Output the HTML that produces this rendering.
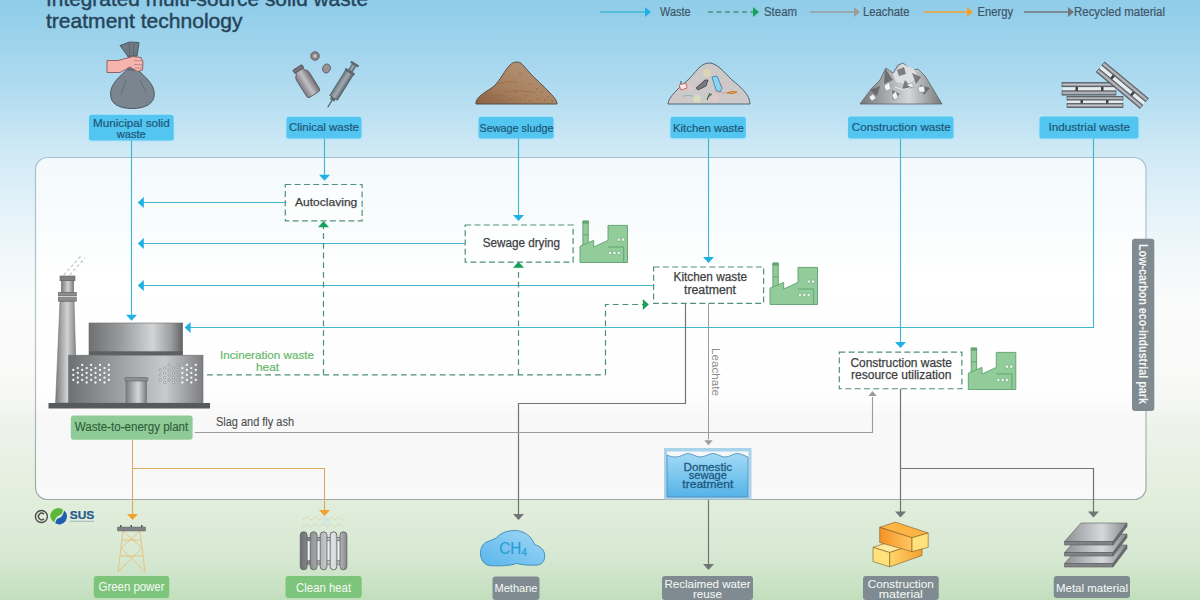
<!DOCTYPE html><html><head><meta charset="utf-8"><style>html,body{margin:0;padding:0;width:1200px;height:600px;overflow:hidden;background:#fff}svg{display:block}text{font-family:"Liberation Sans",sans-serif}</style></head><body>
<svg width="1200" height="600" viewBox="0 0 1200 600">
<defs>
<linearGradient id="bg" x1="0" y1="0" x2="0" y2="1">
<stop offset="0" stop-color="#8ecce9"/>
<stop offset="0.17" stop-color="#b6def1"/>
<stop offset="0.25" stop-color="#cfe9f5"/>
<stop offset="0.33" stop-color="#e0f0f8"/>
<stop offset="0.42" stop-color="#f0f7fa"/>
<stop offset="0.5" stop-color="#fafbfb"/>
<stop offset="0.62" stop-color="#f9f9f8"/>
<stop offset="0.67" stop-color="#f5f7f4"/>
<stop offset="0.70" stop-color="#eef3ec"/>
<stop offset="0.835" stop-color="#e2eedc"/>
<stop offset="0.93" stop-color="#d6e8d2"/>
<stop offset="1" stop-color="#c2dfbd"/>
</linearGradient>
<linearGradient id="pstroke" x1="0" y1="0" x2="0" y2="1"><stop offset="0" stop-color="#a4c2cc"/><stop offset="0.5" stop-color="#b4c4c6"/><stop offset="1" stop-color="#a2a8a4"/></linearGradient>
<linearGradient id="panel" x1="0" y1="0" x2="0" y2="1">
<stop offset="0" stop-color="#f3f9fc"/>
<stop offset="0.2" stop-color="#f9fcfd"/>
<stop offset="0.35" stop-color="#ffffff"/>
<stop offset="0.69" stop-color="#fefefe"/>
<stop offset="0.76" stop-color="#f8f8f8"/>
<stop offset="1" stop-color="#f9f9f9"/>
</linearGradient>
</defs>
<rect x="0" y="0" width="1200" height="600" fill="url(#bg)"/>
<text x="46" y="5.5" font-size="21" fill="#26455a" text-anchor="start" font-weight="normal" textLength="322" lengthAdjust="spacingAndGlyphs" stroke="#26455a" stroke-width="0.45" >Integrated multi-source solid waste</text>
<text x="46" y="27.8" font-size="21" fill="#26455a" text-anchor="start" font-weight="normal" textLength="196.5" lengthAdjust="spacingAndGlyphs" stroke="#26455a" stroke-width="0.45" >treatment technology</text>
<polyline points="600,12 647,12" fill="none" stroke="#40b7d0" stroke-width="1.4"/>
<polygon points="651.00,12.00 645.00,7.00 645.00,17.00" fill="#1fb0e4"/>
<text x="660" y="15.5" font-size="12" fill="#3e5667" text-anchor="start" font-weight="normal" textLength="30.5" lengthAdjust="spacingAndGlyphs" stroke="#3e5667" stroke-width="0.2" >Waste</text>
<polyline points="708,12 754,12" fill="none" stroke="#4b8f76" stroke-width="1.4" stroke-dasharray="5,3.5"/>
<polygon points="759.00,12.00 753.00,7.00 753.00,17.00" fill="#16a058"/>
<text x="764" y="15.5" font-size="12" fill="#3e5667" text-anchor="start" font-weight="normal" textLength="33" lengthAdjust="spacingAndGlyphs" stroke="#3e5667" stroke-width="0.2" >Steam</text>
<polyline points="810,12 856,12" fill="none" stroke="#9c9c9c" stroke-width="1.4"/>
<polygon points="860.00,12.00 854.00,7.00 854.00,17.00" fill="#9c9c9c"/>
<text x="863" y="15.5" font-size="12" fill="#3e5667" text-anchor="start" font-weight="normal" textLength="46.5" lengthAdjust="spacingAndGlyphs" stroke="#3e5667" stroke-width="0.2" >Leachate</text>
<polyline points="924,12 969,12" fill="none" stroke="#f0a22e" stroke-width="1.4"/>
<polygon points="973.00,12.00 967.00,7.00 967.00,17.00" fill="#f0a22e"/>
<text x="977.5" y="15.5" font-size="12" fill="#3e5667" text-anchor="start" font-weight="normal" textLength="35.5" lengthAdjust="spacingAndGlyphs" stroke="#3e5667" stroke-width="0.2" >Energy</text>
<polyline points="1024,12 1070,12" fill="none" stroke="#737475" stroke-width="1.4"/>
<polygon points="1074.00,12.00 1068.00,7.00 1068.00,17.00" fill="#737475"/>
<text x="1074" y="15.5" font-size="12" fill="#3e5667" text-anchor="start" font-weight="normal" textLength="91" lengthAdjust="spacingAndGlyphs" stroke="#3e5667" stroke-width="0.2" >Recycled material</text>
<rect x="35.5" y="157.5" width="1110.5" height="342" rx="12" ry="12" fill="url(#panel)" stroke="url(#pstroke)" stroke-width="1.2"/>
<rect x="87.5" y="113.2" width="87.69999999999999" height="28.799999999999997" rx="3.5" fill="#b9e5f7"/>
<rect x="89" y="114.7" width="84.69999999999999" height="25.799999999999997" rx="2.5" fill="#52c5f1"/>
<text x="93" y="126.7" font-size="11.5" fill="#1e5777" text-anchor="start" font-weight="normal" textLength="76.7" lengthAdjust="spacingAndGlyphs" stroke="#1e5777" stroke-width="0.2" >Municipal solid</text>
<text x="116.7" y="137.5" font-size="11.5" fill="#1e5777" text-anchor="start" font-weight="normal" textLength="29" lengthAdjust="spacingAndGlyphs" stroke="#1e5777" stroke-width="0.2" >waste</text>
<rect x="284.9" y="115.25" width="78.0" height="24.75" rx="3.5" fill="#b9e5f7"/>
<rect x="286.4" y="116.75" width="75.0" height="21.75" rx="2.5" fill="#52c5f1"/>
<text x="289" y="131.4" font-size="11.5" fill="#1e5777" text-anchor="start" font-weight="normal" textLength="70" lengthAdjust="spacingAndGlyphs" stroke="#1e5777" stroke-width="0.2" >Clinical waste</text>
<rect x="477.1" y="115.25" width="78.0" height="24.75" rx="3.5" fill="#b9e5f7"/>
<rect x="478.6" y="116.75" width="75.0" height="21.75" rx="2.5" fill="#52c5f1"/>
<text x="479.5" y="131.5" font-size="11.5" fill="#1e5777" text-anchor="start" font-weight="normal" textLength="74" lengthAdjust="spacingAndGlyphs" stroke="#1e5777" stroke-width="0.2" >Sewage sludge</text>
<rect x="668.9" y="115.2" width="78.39999999999998" height="24.60000000000001" rx="3.5" fill="#b9e5f7"/>
<rect x="670.4" y="116.7" width="75.39999999999998" height="21.60000000000001" rx="2.5" fill="#52c5f1"/>
<text x="673" y="132" font-size="11.5" fill="#1e5777" text-anchor="start" font-weight="normal" textLength="70.8" lengthAdjust="spacingAndGlyphs" stroke="#1e5777" stroke-width="0.2" >Kitchen waste</text>
<rect x="846.5" y="115.0" width="108.5" height="25.0" rx="3.5" fill="#b9e5f7"/>
<rect x="848" y="116.5" width="105.5" height="22.0" rx="2.5" fill="#52c5f1"/>
<text x="851.8" y="130.8" font-size="11.5" fill="#1e5777" text-anchor="start" font-weight="normal" textLength="99" lengthAdjust="spacingAndGlyphs" stroke="#1e5777" stroke-width="0.2" >Construction waste</text>
<rect x="1038.0" y="115.0" width="102.0" height="25.0" rx="3.5" fill="#b9e5f7"/>
<rect x="1039.5" y="116.5" width="99.0" height="22.0" rx="2.5" fill="#52c5f1"/>
<text x="1048.5" y="130.8" font-size="11.5" fill="#1e5777" text-anchor="start" font-weight="normal" textLength="81.5" lengthAdjust="spacingAndGlyphs" stroke="#1e5777" stroke-width="0.2" >Industrial waste</text>
<polyline points="131.5,140.5 131.5,315" fill="none" stroke="#40b7d0" stroke-width="1.15"/>
<polygon points="131.50,320.80 126.00,314.80 137.00,314.80" fill="#1fb0e4"/>
<polyline points="324.5,138.5 324.5,176" fill="none" stroke="#40b7d0" stroke-width="1.15"/>
<polygon points="324.50,180.80 319.00,174.80 330.00,174.80" fill="#1fb0e4"/>
<polyline points="518.5,138.5 518.5,216" fill="none" stroke="#40b7d0" stroke-width="1.15"/>
<polygon points="518.50,221.00 513.00,215.00 524.00,215.00" fill="#1fb0e4"/>
<polyline points="708.5,138.3 708.5,258" fill="none" stroke="#40b7d0" stroke-width="1.15"/>
<polygon points="708.50,263.00 703.00,257.00 714.00,257.00" fill="#1fb0e4"/>
<polyline points="900.5,138.5 900.5,343" fill="none" stroke="#40b7d0" stroke-width="1.15"/>
<polygon points="900.50,348.00 895.00,342.00 906.00,342.00" fill="#1fb0e4"/>
<polyline points="1093.5,138.5 1093.5,327.5 190,327.5" fill="none" stroke="#40b7d0" stroke-width="1.15"/>
<polygon points="184.60,327.50 190.60,322.00 190.60,333.00" fill="#1fb0e4"/>
<polyline points="285.3,202.5 143,202.5" fill="none" stroke="#40b7d0" stroke-width="1.15"/>
<polygon points="137.80,202.50 143.80,197.00 143.80,208.00" fill="#1fb0e4"/>
<polyline points="465.2,243.5 143,243.5" fill="none" stroke="#40b7d0" stroke-width="1.15"/>
<polygon points="137.80,243.50 143.80,238.00 143.80,249.00" fill="#1fb0e4"/>
<polyline points="653.6,285.5 143,285.5" fill="none" stroke="#40b7d0" stroke-width="1.15"/>
<polygon points="137.80,285.50 143.80,280.00 143.80,291.00" fill="#1fb0e4"/>
<rect x="285.3" y="184.5" width="76.80000000000001" height="36.400000000000006" fill="#ffffff" fill-opacity="0.6" stroke="#52907a" stroke-width="1.2" stroke-dasharray="6,3.3"/>
<text x="295" y="205.5" font-size="11.5" fill="#3d3f42" text-anchor="start" font-weight="normal" textLength="62.3" lengthAdjust="spacingAndGlyphs" stroke="#3d3f42" stroke-width="0.25" >Autoclaving</text>
<rect x="465.2" y="225" width="107.90000000000003" height="37.19999999999999" fill="#ffffff" fill-opacity="0.6" stroke="#52907a" stroke-width="1.2" stroke-dasharray="6,3.3"/>
<text x="482.7" y="246.7" font-size="12" fill="#3d3f42" text-anchor="start" font-weight="normal" textLength="77.3" lengthAdjust="spacingAndGlyphs" stroke="#3d3f42" stroke-width="0.25" >Sewage drying</text>
<rect x="653.6" y="267" width="110.0" height="36.39999999999998" fill="#ffffff" fill-opacity="0.6" stroke="#52907a" stroke-width="1.2" stroke-dasharray="6,3.3"/>
<text x="673.6" y="281" font-size="12" fill="#3d3f42" text-anchor="start" font-weight="normal" textLength="73.4" lengthAdjust="spacingAndGlyphs" stroke="#3d3f42" stroke-width="0.25" >Kitchen waste</text>
<text x="684" y="294" font-size="12" fill="#3d3f42" text-anchor="start" font-weight="normal" textLength="52" lengthAdjust="spacingAndGlyphs" stroke="#3d3f42" stroke-width="0.25" >treatment</text>
<rect x="839.3" y="352.2" width="122.60000000000002" height="36.55000000000001" fill="#ffffff" fill-opacity="0.6" stroke="#52907a" stroke-width="1.2" stroke-dasharray="6,3.3"/>
<text x="850.4" y="367" font-size="12" fill="#3d3f42" text-anchor="start" font-weight="normal" textLength="101.6" lengthAdjust="spacingAndGlyphs" stroke="#3d3f42" stroke-width="0.25" >Construction waste</text>
<text x="851" y="378.8" font-size="12" fill="#3d3f42" text-anchor="start" font-weight="normal" textLength="100.4" lengthAdjust="spacingAndGlyphs" stroke="#3d3f42" stroke-width="0.25" >resource utilization</text>
<polyline points="207,374.8 605.5,374.8" fill="none" stroke="#4b8f76" stroke-width="1.2" stroke-dasharray="5.8,3.9"/>
<polyline points="323.5,374.8 323.5,227" fill="none" stroke="#4b8f76" stroke-width="1.2" stroke-dasharray="5.8,3.9"/>
<polygon points="323.50,221.20 318.00,227.20 329.00,227.20" fill="#16a058"/>
<polyline points="518.5,374.8 518.5,267.5" fill="none" stroke="#4b8f76" stroke-width="1.2" stroke-dasharray="5.8,3.9"/>
<polygon points="518.50,261.80 513.00,267.80 524.00,267.80" fill="#16a058"/>
<polyline points="605.5,374.8 605.5,304.5 643,304.5" fill="none" stroke="#4b8f76" stroke-width="1.2" stroke-dasharray="5.8,3.9"/>
<polygon points="648.80,304.50 642.80,299.00 642.80,310.00" fill="#16a058"/>
<text x="220" y="358.6" font-size="11.5" fill="#66b96a" text-anchor="start" font-weight="normal" textLength="94" lengthAdjust="spacingAndGlyphs" stroke="#66b96a" stroke-width="0.2" >Incineration waste</text>
<text x="256" y="371" font-size="11.5" fill="#66b96a" text-anchor="start" font-weight="normal" textLength="23" lengthAdjust="spacingAndGlyphs" stroke="#66b96a" stroke-width="0.2" >heat</text>
<polyline points="685.5,303.4 685.5,403.5 518.5,403.5 518.5,514" fill="none" stroke="#737475" stroke-width="1.2"/>
<polygon points="518.50,520.00 513.00,514.00 524.00,514.00" fill="#737475"/>
<polyline points="708.5,303.4 708.5,439.5" fill="none" stroke="#9c9c9c" stroke-width="1.0"/>
<polygon points="708.50,445.30 704.30,440.30 712.70,440.30" fill="#9c9c9c"/>
<text x="0" y="0" font-size="11.5" fill="#8c8c8c" textLength="48" lengthAdjust="spacingAndGlyphs" transform="translate(711.5,348) rotate(90)">Leachate</text>
<polyline points="194.8,432.5 872.5,432.5 872.5,397" fill="none" stroke="#9c9c9c" stroke-width="1.1"/>
<polygon points="872.50,391.00 868.30,396.00 876.70,396.00" fill="#9c9c9c"/>
<text x="216" y="425.6" font-size="12" fill="#4a4c4e" text-anchor="start" font-weight="normal" textLength="78" lengthAdjust="spacingAndGlyphs" stroke="#4a4c4e" stroke-width="0.1" >Slag and fly ash</text>
<polyline points="900.5,388.75 900.5,512" fill="none" stroke="#737475" stroke-width="1.2"/>
<polygon points="900.50,517.50 895.00,511.50 906.00,511.50" fill="#737475"/>
<polyline points="900.5,468.5 1093.5,468.5 1093.5,512" fill="none" stroke="#737475" stroke-width="1.2"/>
<polygon points="1093.50,517.50 1088.00,511.50 1099.00,511.50" fill="#737475"/>
<polyline points="708.5,499.5 708.5,564" fill="none" stroke="#737475" stroke-width="1.2"/>
<polygon points="708.50,570.00 703.00,564.00 714.00,564.00" fill="#737475"/>
<polyline points="132.5,439.7 132.5,514" fill="none" stroke="#d9ad5e" stroke-width="1.1"/>
<polygon points="132.50,520.00 127.00,514.00 138.00,514.00" fill="#f0a22e"/>
<polyline points="132.5,468.5 324.5,468.5 324.5,510" fill="none" stroke="#d9ad5e" stroke-width="1.1"/>
<polygon points="324.50,516.00 319.00,510.00 330.00,510.00" fill="#f0a22e"/>
<rect x="70.8" y="415.6" width="121.8" height="24.1" rx="3" fill="#8ecb96"/>
<text x="74.7" y="431.4" font-size="12" fill="#2e5b37" text-anchor="start" font-weight="normal" textLength="113.6" lengthAdjust="spacingAndGlyphs" stroke="#2e5b37" stroke-width="0.1" >Waste-to-energy plant</text>
<rect x="664" y="448" width="87.5" height="51.5" fill="#a9d3ea"/>
<rect x="667" y="451.5" width="81.5" height="45.5" fill="#f4f8fa"/>
<defs><linearGradient id="water" x1="0" y1="0" x2="0" y2="1"><stop offset="0" stop-color="#a2daf6"/><stop offset="1" stop-color="#55b3e8"/></linearGradient></defs>
<path d="M667,455 C670,456.5 673,457 676,457 C681,457 684,453.5 688,453.5 C692,453.5 696,457 700,457 C705,457 709,453.5 713,453.5 C717,453.5 721,457 725,457 C730,457 733,453.5 737,453.5 C741,453.5 745,456 748,457 L748,497 L667,497 Z" fill="url(#water)" stroke="#4a88b0" stroke-width="0.8"/>
<text x="707.8" y="470.5" font-size="11" fill="#1f5a80" text-anchor="middle" font-weight="normal" textLength="48.5" lengthAdjust="spacingAndGlyphs" stroke="#1f5a80" stroke-width="0.3" >Domestic</text>
<text x="707.8" y="479.3" font-size="11" fill="#1f5a80" text-anchor="middle" font-weight="normal" textLength="38" lengthAdjust="spacingAndGlyphs" stroke="#1f5a80" stroke-width="0.3" >sewage</text>
<text x="707.8" y="488" font-size="11" fill="#1f5a80" text-anchor="middle" font-weight="normal" textLength="51" lengthAdjust="spacingAndGlyphs" stroke="#1f5a80" stroke-width="0.3" >treatment</text>
<rect x="93.75" y="576" width="75.5" height="22" rx="3" fill="#7cc57a"/>
<text x="131.5" y="591" font-size="12" fill="#f4f8f4" text-anchor="middle" font-weight="normal" textLength="66" lengthAdjust="spacingAndGlyphs" stroke="#f4f8f4" stroke-width="0.05" >Green power</text>
<rect x="285.5" y="576" width="76.25" height="22" rx="3" fill="#7cc57a"/>
<text x="323.6" y="591.5" font-size="12" fill="#f4f8f4" text-anchor="middle" font-weight="normal" textLength="55" lengthAdjust="spacingAndGlyphs" stroke="#f4f8f4" stroke-width="0.05" >Clean heat</text>
<rect x="492.5" y="576.5" width="47.0" height="23.5" rx="3" fill="#7f8b91"/>
<text x="516" y="592" font-size="11.5" fill="#f4f8f4" text-anchor="middle" font-weight="normal" textLength="43" lengthAdjust="spacingAndGlyphs" stroke="#f4f8f4" stroke-width="0.05" >Methane</text>
<rect x="662" y="576" width="91" height="24" rx="3" fill="#7f8b91"/>
<text x="707.5" y="587.5" font-size="11.5" fill="#f4f8f4" text-anchor="middle" font-weight="normal" textLength="86" lengthAdjust="spacingAndGlyphs" stroke="#f4f8f4" stroke-width="0.05" >Reclaimed water</text>
<text x="707.5" y="598" font-size="11.5" fill="#f4f8f4" text-anchor="middle" font-weight="normal" textLength="29" lengthAdjust="spacingAndGlyphs" stroke="#f4f8f4" stroke-width="0.05" >reuse</text>
<rect x="863" y="576" width="75.75" height="24" rx="3" fill="#7f8b91"/>
<text x="900.8" y="587.5" font-size="11.5" fill="#f4f8f4" text-anchor="middle" font-weight="normal" textLength="66" lengthAdjust="spacingAndGlyphs" stroke="#f4f8f4" stroke-width="0.05" >Construction</text>
<text x="900.8" y="598" font-size="11.5" fill="#f4f8f4" text-anchor="middle" font-weight="normal" textLength="44" lengthAdjust="spacingAndGlyphs" stroke="#f4f8f4" stroke-width="0.05" >material</text>
<rect x="1053.75" y="576" width="76.25" height="22" rx="3" fill="#7f8b91"/>
<text x="1092" y="591.5" font-size="11.5" fill="#f4f8f4" text-anchor="middle" font-weight="normal" textLength="72" lengthAdjust="spacingAndGlyphs" stroke="#f4f8f4" stroke-width="0.05" >Metal material</text>
<rect x="1132" y="238.7" width="22.3" height="172.3" rx="3" fill="#7f8b91"/>
<text x="0" y="0" font-size="12" font-weight="bold" fill="#f4f6f6" textLength="160" lengthAdjust="spacingAndGlyphs" transform="translate(1139,244) rotate(90)">Low-carbon eco-industrial park</text>
<defs>
<linearGradient id="drum" x1="0" y1="0" x2="1" y2="0">
<stop offset="0" stop-color="#6e7072"/><stop offset="0.35" stop-color="#9a9c9e"/><stop offset="0.68" stop-color="#d2d4d6"/><stop offset="0.88" stop-color="#9a9c9e"/><stop offset="1" stop-color="#606264"/>
</linearGradient>
<linearGradient id="body" x1="0" y1="0" x2="1" y2="0">
<stop offset="0" stop-color="#6e7072"/><stop offset="0.4" stop-color="#a0a2a4"/><stop offset="0.72" stop-color="#c8cacc"/><stop offset="1" stop-color="#7c7e80"/>
</linearGradient>
<linearGradient id="chim" x1="0" y1="0" x2="1" y2="0">
<stop offset="0" stop-color="#7a7c7e"/><stop offset="0.55" stop-color="#d0d2d4"/><stop offset="1" stop-color="#7a7c7e"/>
</linearGradient>
<linearGradient id="door" x1="0" y1="0" x2="1" y2="0">
<stop offset="0" stop-color="#7a7c7e"/><stop offset="0.6" stop-color="#d4d6d8"/><stop offset="1" stop-color="#7a7c7e"/>
</linearGradient>
</defs>
<path d="M63.7,275 L81,256 M69.7,275 L85,258" stroke="#c4c6c8" stroke-width="1.3" stroke-dasharray="3,2.5" fill="none"/>
<path d="M60,301 L74,301 L77,403 L55.6,403 Z" fill="url(#chim)" stroke="#6e7072" stroke-width="0.6"/>
<rect x="61.3" y="280.5" width="12.4" height="12" fill="url(#chim)" stroke="#6e7072" stroke-width="0.6"/>
<rect x="60" y="276" width="15" height="4.7" fill="#7d7f81" stroke="#5e6062" stroke-width="0.6"/>
<rect x="58.3" y="292.4" width="18" height="3.6" fill="#8a8c8e" stroke="#5e6062" stroke-width="0.6"/>
<rect x="58.3" y="297.6" width="18" height="3.6" fill="#8a8c8e" stroke="#5e6062" stroke-width="0.6"/>
<rect x="89" y="323" width="93.7" height="32.2" fill="url(#drum)" stroke="#6a6c6e" stroke-width="0.6"/>
<rect x="89" y="351.3" width="93.7" height="4" fill="#5d5f61"/>
<rect x="68.7" y="355.2" width="134.3" height="48" fill="url(#body)" stroke="#6a6c6e" stroke-width="0.6"/>
<g fill="#f4f6f8"><circle cx="73.3" cy="369.9" r="1.15"/><circle cx="73.3" cy="374.9" r="1.15"/><circle cx="73.3" cy="379.9" r="1.15"/><circle cx="77.8" cy="368.1" r="1.15"/><circle cx="77.8" cy="372.9" r="1.15"/><circle cx="77.8" cy="377.7" r="1.15"/><circle cx="77.8" cy="382.5" r="1.15"/><circle cx="82.2" cy="364.9" r="1.15"/><circle cx="82.2" cy="369.9" r="1.15"/><circle cx="82.2" cy="374.9" r="1.15"/><circle cx="82.2" cy="379.9" r="1.15"/><circle cx="86.7" cy="368.1" r="1.15"/><circle cx="86.7" cy="372.9" r="1.15"/><circle cx="86.7" cy="377.7" r="1.15"/><circle cx="86.7" cy="382.5" r="1.15"/><circle cx="91.1" cy="364.9" r="1.15"/><circle cx="91.1" cy="369.9" r="1.15"/><circle cx="91.1" cy="374.9" r="1.15"/><circle cx="91.1" cy="379.9" r="1.15"/><circle cx="95.5" cy="368.1" r="1.15"/><circle cx="95.5" cy="372.9" r="1.15"/><circle cx="95.5" cy="377.7" r="1.15"/><circle cx="95.5" cy="382.5" r="1.15"/><circle cx="100.0" cy="364.9" r="1.15"/><circle cx="100.0" cy="369.9" r="1.15"/><circle cx="100.0" cy="374.9" r="1.15"/><circle cx="100.0" cy="379.9" r="1.15"/><circle cx="104.5" cy="368.1" r="1.15"/><circle cx="104.5" cy="372.9" r="1.15"/><circle cx="104.5" cy="377.7" r="1.15"/><circle cx="104.5" cy="382.5" r="1.15"/><circle cx="108.9" cy="364.9" r="1.15"/><circle cx="108.9" cy="369.9" r="1.15"/><circle cx="108.9" cy="374.9" r="1.15"/><circle cx="108.9" cy="379.9" r="1.15"/><circle cx="160.2" cy="369.9" r="1.15" fill="#e8eaec" stroke="#6a6c6e" stroke-width="0.5"/><circle cx="160.2" cy="374.9" r="1.15" fill="#e8eaec" stroke="#6a6c6e" stroke-width="0.5"/><circle cx="160.2" cy="379.9" r="1.15" fill="#e8eaec" stroke="#6a6c6e" stroke-width="0.5"/><circle cx="164.6" cy="368.1" r="1.15" fill="#e8eaec" stroke="#6a6c6e" stroke-width="0.5"/><circle cx="164.6" cy="372.9" r="1.15" fill="#e8eaec" stroke="#6a6c6e" stroke-width="0.5"/><circle cx="164.6" cy="377.7" r="1.15" fill="#e8eaec" stroke="#6a6c6e" stroke-width="0.5"/><circle cx="164.6" cy="382.5" r="1.15" fill="#e8eaec" stroke="#6a6c6e" stroke-width="0.5"/><circle cx="169.1" cy="364.9" r="1.15" fill="#e8eaec" stroke="#6a6c6e" stroke-width="0.5"/><circle cx="169.1" cy="369.9" r="1.15" fill="#e8eaec" stroke="#6a6c6e" stroke-width="0.5"/><circle cx="169.1" cy="374.9" r="1.15" fill="#e8eaec" stroke="#6a6c6e" stroke-width="0.5"/><circle cx="169.1" cy="379.9" r="1.15" fill="#e8eaec" stroke="#6a6c6e" stroke-width="0.5"/><circle cx="173.5" cy="368.1" r="1.15" fill="#e8eaec" stroke="#6a6c6e" stroke-width="0.5"/><circle cx="173.5" cy="372.9" r="1.15" fill="#e8eaec" stroke="#6a6c6e" stroke-width="0.5"/><circle cx="173.5" cy="377.7" r="1.15" fill="#e8eaec" stroke="#6a6c6e" stroke-width="0.5"/><circle cx="173.5" cy="382.5" r="1.15" fill="#e8eaec" stroke="#6a6c6e" stroke-width="0.5"/><circle cx="178.0" cy="364.9" r="1.15" fill="#e8eaec" stroke="#6a6c6e" stroke-width="0.5"/><circle cx="178.0" cy="369.9" r="1.15" fill="#e8eaec" stroke="#6a6c6e" stroke-width="0.5"/><circle cx="178.0" cy="374.9" r="1.15" fill="#e8eaec" stroke="#6a6c6e" stroke-width="0.5"/><circle cx="178.0" cy="379.9" r="1.15" fill="#e8eaec" stroke="#6a6c6e" stroke-width="0.5"/><circle cx="182.4" cy="368.1" r="1.15"/><circle cx="182.4" cy="372.9" r="1.15"/><circle cx="182.4" cy="377.7" r="1.15"/><circle cx="182.4" cy="382.5" r="1.15"/><circle cx="186.9" cy="364.9" r="1.15"/><circle cx="186.9" cy="369.9" r="1.15"/><circle cx="186.9" cy="374.9" r="1.15"/><circle cx="186.9" cy="379.9" r="1.15"/><circle cx="191.3" cy="368.1" r="1.15"/><circle cx="191.3" cy="372.9" r="1.15"/><circle cx="191.3" cy="377.7" r="1.15"/><circle cx="191.3" cy="382.5" r="1.15"/><circle cx="195.8" cy="364.9" r="1.15"/><circle cx="195.8" cy="369.9" r="1.15"/><circle cx="195.8" cy="374.9" r="1.15"/><circle cx="195.8" cy="379.9" r="1.15"/></g>
<rect x="126" y="380" width="20.5" height="23.2" fill="url(#door)" stroke="#6a6c6e" stroke-width="0.6"/>
<rect x="124.8" y="377.6" width="23" height="3.4" rx="1" fill="#8d8f91" stroke="#5e6062" stroke-width="0.6"/>
<rect x="48.5" y="403" width="161.5" height="5.5" fill="#58595b"/>
<g transform="translate(580,220.5)" fill="#92cc9b" stroke="#5e9f6c" stroke-width="0.9" stroke-linejoin="round"><rect x="2.9" y="1.2" width="5.4" height="26"/><rect x="2.9" y="0.4" width="5.4" height="2.2" fill="#6aa878"/><line x1="2.9" y1="14.3" x2="8.3" y2="14.3"/><path d="M0,42 V25.7 L13.7,19.9 V26.5 L28,19.9 V4.9 H47.5 V42 Z"/><path d="M28,26.5 H43.7 V42" fill="none"/><g fill="#eef8ef" stroke="#5e9f6c" stroke-width="0.5"><rect x="37.2" y="17.6" width="3" height="3" rx="0.6"/><rect x="41.5" y="17.6" width="3" height="3" rx="0.6"/><rect x="28.5" y="30.9" width="3" height="3" rx="0.6"/><rect x="32.9" y="30.9" width="3" height="3" rx="0.6"/><rect x="37.2" y="30.9" width="3" height="3" rx="0.6"/></g></g>
<g transform="translate(770,262.5)" fill="#92cc9b" stroke="#5e9f6c" stroke-width="0.9" stroke-linejoin="round"><rect x="2.9" y="1.2" width="5.4" height="26"/><rect x="2.9" y="0.4" width="5.4" height="2.2" fill="#6aa878"/><line x1="2.9" y1="14.3" x2="8.3" y2="14.3"/><path d="M0,42 V25.7 L13.7,19.9 V26.5 L28,19.9 V4.9 H47.5 V42 Z"/><path d="M28,26.5 H43.7 V42" fill="none"/><g fill="#eef8ef" stroke="#5e9f6c" stroke-width="0.5"><rect x="37.2" y="17.6" width="3" height="3" rx="0.6"/><rect x="41.5" y="17.6" width="3" height="3" rx="0.6"/><rect x="28.5" y="30.9" width="3" height="3" rx="0.6"/><rect x="32.9" y="30.9" width="3" height="3" rx="0.6"/><rect x="37.2" y="30.9" width="3" height="3" rx="0.6"/></g></g>
<g transform="translate(968.3,347.5)" fill="#92cc9b" stroke="#5e9f6c" stroke-width="0.9" stroke-linejoin="round"><rect x="2.9" y="1.2" width="5.4" height="26"/><rect x="2.9" y="0.4" width="5.4" height="2.2" fill="#6aa878"/><line x1="2.9" y1="14.3" x2="8.3" y2="14.3"/><path d="M0,42 V25.7 L13.7,19.9 V26.5 L28,19.9 V4.9 H47.5 V42 Z"/><path d="M28,26.5 H43.7 V42" fill="none"/><g fill="#eef8ef" stroke="#5e9f6c" stroke-width="0.5"><rect x="37.2" y="17.6" width="3" height="3" rx="0.6"/><rect x="41.5" y="17.6" width="3" height="3" rx="0.6"/><rect x="28.5" y="30.9" width="3" height="3" rx="0.6"/><rect x="32.9" y="30.9" width="3" height="3" rx="0.6"/><rect x="37.2" y="30.9" width="3" height="3" rx="0.6"/></g></g>
<path d="M128,69 C119,77 110.5,84 110.5,94 C110.5,104 119,108.5 132,108.5 C145,108.5 154.3,104 154.3,94 C154.3,84 145,77 137,69 Z" fill="#7b858f" stroke="#4e5963" stroke-width="1"/>
<path d="M126,80 L121,95 M140,80 L146,92" stroke="#5b6670" stroke-width="0.8" fill="none"/>
<path d="M120,45.5 L129.5,42 L139,42.5 L137,56 L128,56.5 Z" fill="#6f7a84" stroke="#4e5963" stroke-width="1" stroke-linejoin="round"/>
<path d="M129,43 L130,55 M134,43 L133.5,55" stroke="#4e5963" stroke-width="0.7"/>
<path d="M128,56 L128,70 L137,70 L136,56 Z" fill="#6f7a84" stroke="#4e5963" stroke-width="0.8"/>
<path d="M107,60.5 L118,60.5 L133,56.5 L141,57.5 L143,62 L142.5,70 L137.5,71.5 L130,67 L120,72.5 L107,72.5 Z" fill="#f5b5ae" stroke="#8a5a5a" stroke-width="0.9" stroke-linejoin="round"/>
<path d="M134,60.5 L142.5,60.8 M134,64.5 L142.5,64.8 M135,68 L142,68.2" stroke="#a06a6a" stroke-width="0.6"/>
<defs><linearGradient id="btl" x1="0" y1="0" x2="1" y2="0"><stop offset="0" stop-color="#7c7a80"/><stop offset="0.5" stop-color="#c2c0c4"/><stop offset="1" stop-color="#6e6c72"/></linearGradient>
<linearGradient id="syr" x1="0" y1="0" x2="1" y2="0"><stop offset="0" stop-color="#6c747c"/><stop offset="0.5" stop-color="#a2aab2"/><stop offset="1" stop-color="#5c646c"/></linearGradient></defs>
<g transform="translate(305.5,80.5) rotate(-32)"><path d="M-4.5,-12 L4.5,-12 L4.5,-10 Q7.5,-8 7.5,-5 L7.5,14 Q7.5,16.5 5,16.5 L-5,16.5 Q-7.5,16.5 -7.5,14 L-7.5,-5 Q-7.5,-8 -4.5,-10 Z" fill="url(#btl)" stroke="#5a5458" stroke-width="0.8"/><rect x="-5.5" y="-15.5" width="11" height="3.8" rx="1" fill="#75707a" stroke="#4f4a52" stroke-width="0.7"/></g>
<circle cx="315" cy="56" r="4.3" fill="#8a8488" stroke="#5a5458" stroke-width="0.8"/>
<circle cx="315" cy="56" r="1.8" fill="#c8c2c6"/>
<ellipse cx="326.5" cy="68.5" rx="3.8" ry="4.6" transform="rotate(20 326.5 68.5)" fill="#9a9498" stroke="#5a5458" stroke-width="0.8"/>
<g transform="translate(341,86) rotate(32)"><rect x="-4.5" y="-16" width="9" height="30" fill="url(#syr)" stroke="#535b63" stroke-width="0.8"/><rect x="-5.5" y="-18" width="11" height="2.5" fill="#5f676f"/><rect x="-2.2" y="-25" width="4.4" height="7" fill="url(#syr)" stroke="#535b63" stroke-width="0.7"/><rect x="-4.5" y="-27" width="9" height="2.5" fill="#5f676f"/><rect x="-2.5" y="14" width="5" height="3" fill="#5f676f"/><line x1="0" y1="17" x2="0" y2="25" stroke="#535b63" stroke-width="1.2"/></g>
<defs><linearGradient id="sl" x1="1" y1="0" x2="0" y2="1"><stop offset="0" stop-color="#b89880"/><stop offset="0.6" stop-color="#a8825f"/><stop offset="1" stop-color="#8a6044"/></linearGradient></defs>
<path d="M476,104 C475,99 482,94 490,89 C497,85 501,77 506,70 C510,64 513,62 517,62 C521,62 524,66 528,71 C535,79 544,86 550,93 C555,98 557,101 557,104 Z" fill="url(#sl)" stroke="#5a4c44" stroke-width="1"/>
<g fill="#8a5e42"><circle cx="520" cy="74" r="0.7"/><circle cx="530" cy="84" r="0.7"/><circle cx="537" cy="89" r="0.7"/><circle cx="542" cy="92" r="0.7"/><circle cx="548" cy="97" r="0.7"/><circle cx="538" cy="99" r="0.7"/><circle cx="530" cy="101" r="0.7"/><circle cx="520" cy="100" r="0.7"/><circle cx="510" cy="99" r="0.7"/><circle cx="500" cy="101" r="0.7"/><circle cx="490" cy="98" r="0.7"/><circle cx="483" cy="100" r="0.7"/><circle cx="545" cy="100" r="0.7"/><circle cx="552" cy="101" r="0.7"/><circle cx="516" cy="92" r="0.7"/><circle cx="526" cy="96" r="0.7"/></g>
<path d="M498,84 Q508,80 518,83 M505,92 Q520,89 535,93 M486,96 Q498,94 506,97" stroke="#8e6448" stroke-width="0.6" fill="none"/>
<path d="M668,104 C668,97 679,88 689,79 C695,73 700,64 708,63 C716,62 724,72 732,80 C741,87 750,95 750,104 Z" fill="#cdc9c9" stroke="#4f6575" stroke-width="1"/>
<g opacity="0.55"><circle cx="707" cy="73" r="4" fill="#e8e0a8"/><circle cx="722" cy="86" r="3.5" fill="#f0b8b0"/><circle cx="690" cy="88" r="3" fill="#e8c8d8"/><circle cx="715" cy="98" r="4" fill="#f0c8c8"/><circle cx="697" cy="99" r="4" fill="#e0e8b0"/></g>
<path d="M679,85 L686,83 L687,88 L681,90 Z" fill="#f4e6e6" stroke="#c85050" stroke-width="0.8"/>
<path d="M681,84 L681,81" stroke="#404040" stroke-width="1"/>
<path d="M696,88 L705,80 L708,80 L706,86 L698,90 Z" fill="#7c7880" stroke="#403c44" stroke-width="0.8"/>
<path d="M712,77 L717,76 L722,88 L720,92 L716,90 Z" fill="#8cd4f2" stroke="#2c7cb0" stroke-width="0.8"/>
<path d="M727,93 Q732,90 737,92 Q733,95 727,93 Z" fill="#f0a030" stroke="#b06010" stroke-width="0.6"/>
<path d="M715,91 Q722,93 727,93" stroke="#c87878" stroke-width="0.5" fill="none"/>
<path d="M708,97 L710,93 M708,97 L712,94 M708,97 L707,100" stroke="#2a5a2a" stroke-width="1"/>
<path d="M683,96 Q688,95 693,96" stroke="#60a0c0" stroke-width="0.6" fill="none"/>
<defs><linearGradient id="rub" x1="0" y1="0" x2="1" y2="0"><stop offset="0" stop-color="#747679"/><stop offset="0.6" stop-color="#d4d6d8"/><stop offset="1" stop-color="#76787b"/></linearGradient></defs>
<path d="M860,104 L872,88 L880,80 L886,68 L893,73 L898,65 L903,63 L912,70 L918,69 L925,76 L930,84 L936,94 L942,104 Z" fill="url(#rub)" stroke="#606264" stroke-width="0.8" stroke-linejoin="round"/>
<path d="M893,74 L902,64 L914,69 L918,78 L906,84 L896,82 Z" fill="#dcdee0"/>
<path d="M885,68 L893,80 L884,84 Z M897,70 L904,67 L906,74 L899,76 Z M912,73 L921,77 L916,84 Z M905,80 L912,88 L902,89 Z M870,90 L880,86 L877,96 Z M892,90 L900,94 L893,100 Z M920,85 L930,88 L924,95 Z" fill="#5c5e61" opacity="0.75"/>
<path d="M869,97 L873,94 L876,98 L872,101 Z M884,86 L889,82 L891,89 L886,91 Z M892,95 L896,91 L898,98 L894,100 Z M918,87 L924,86 L925,92 L919,92 Z M906,85 L912,83 L914,88 Z" fill="#f2f3f4" stroke="#707274" stroke-width="0.4"/>
<path d="M895,87 Q905,92 912,86" stroke="#e8e8e8" stroke-width="1" fill="none"/>
<defs><linearGradient id="bar" x1="0" y1="0" x2="0" y2="1"><stop offset="0" stop-color="#62666b"/><stop offset="0.5" stop-color="#c4c8cc"/><stop offset="1" stop-color="#565a5f"/></linearGradient></defs>
<rect x="1063" y="86.5" width="52" height="4.5" fill="#e4ecf0"/><rect x="1068" y="99.8" width="54" height="3.7" fill="#e4ecf0"/>
<rect x="1062" y="82.5" width="54" height="4.3" fill="url(#bar)" stroke="#474b50" stroke-width="0.6"/>
<rect x="1062" y="90.8" width="54" height="4.3" fill="url(#bar)" stroke="#474b50" stroke-width="0.6"/>
<rect x="1067" y="96.3" width="56" height="3.8" fill="url(#bar)" stroke="#474b50" stroke-width="0.6"/>
<rect x="1067" y="103.3" width="56" height="4.3" fill="url(#bar)" stroke="#474b50" stroke-width="0.6"/>
<g fill="#3e4246"><rect x="1075.5" y="86.8" width="2.5" height="4"/><rect x="1101" y="86.8" width="2.5" height="4"/><rect x="1080.5" y="100" width="2.5" height="3.3"/><rect x="1106" y="100" width="2.5" height="3.3"/></g>
<g transform="translate(1122.3,85.2) rotate(39.7)"><rect x="-28" y="-2.2" width="56" height="4.4" fill="#e4ecf0"/><rect x="-28.5" y="-6.6" width="57" height="4.5" fill="url(#bar)" stroke="#474b50" stroke-width="0.6"/><rect x="-28.5" y="2.1" width="57" height="4.5" fill="url(#bar)" stroke="#474b50" stroke-width="0.6"/><rect x="-14" y="-2.2" width="2.6" height="4.4" fill="#3e4246"/><rect x="12" y="-2.2" width="2.6" height="4.4" fill="#3e4246"/></g>
<g stroke="#e6c07a" stroke-width="0.9" fill="none"><path d="M123,531 L118,572 M140,531 L145,572 M123,531 L142,548 M140,531 L121,548 M121,548 L145,572 M142,548 L118,572 M122,540 L141,540 M120,556 L143,556"/></g>
<rect x="117.5" y="527" width="28" height="4" rx="0.5" fill="#7f8285" stroke="#5f6265" stroke-width="0.5"/>
<g fill="#505356"><rect x="120" y="525" width="1.5" height="2"/><rect x="130.5" y="525" width="1.5" height="2"/><rect x="141" y="525" width="1.5" height="2"/></g>
<defs><linearGradient id="radg" gradientUnits="userSpaceOnUse" x1="300" y1="0" x2="347" y2="0"><stop offset="0" stop-color="#6c6e71"/><stop offset="0.72" stop-color="#dfe1e3"/><stop offset="1" stop-color="#85878a"/></linearGradient></defs>
<rect x="302" y="541" width="43" height="19.5" fill="#eef1ef"/>
<rect x="301" y="537.3" width="45" height="3.4" fill="url(#radg)" stroke="#595b5e" stroke-width="0.6"/>
<rect x="301" y="560.8" width="45" height="3.4" fill="url(#radg)" stroke="#595b5e" stroke-width="0.6"/>
<rect x="300.30" y="531.8" width="6.8" height="38" rx="3.4" fill="url(#radg)" stroke="#595b5e" stroke-width="0.8"/>
<rect x="310.23" y="531.8" width="6.8" height="38" rx="3.4" fill="url(#radg)" stroke="#595b5e" stroke-width="0.8"/>
<rect x="320.16" y="531.8" width="6.8" height="38" rx="3.4" fill="url(#radg)" stroke="#595b5e" stroke-width="0.8"/>
<rect x="330.09" y="531.8" width="6.8" height="38" rx="3.4" fill="url(#radg)" stroke="#595b5e" stroke-width="0.8"/>
<rect x="340.02" y="531.8" width="6.8" height="38" rx="3.4" fill="url(#radg)" stroke="#595b5e" stroke-width="0.8"/>
<path d="M303,527 l4,-3 l4,3 l4,-3 l4,3 l4,-3 l4,3 l4,-3 l4,3 l4,-3 l4,3 M303,520 l4,-3 l4,3 l4,-3 l4,3 l4,-3 l4,3 l4,-3 l4,3 l4,-3 l4,3" stroke="#d4bf98" stroke-width="0.8" fill="none" stroke-dasharray="1.6,1.4"/>
<ellipse cx="326" cy="521" rx="5" ry="4" fill="#bfe3f0" opacity="0.35"/>
<defs><linearGradient id="cld" x1="0" y1="1" x2="1" y2="0"><stop offset="0" stop-color="#58b5ec"/><stop offset="1" stop-color="#a3d8f5"/></linearGradient></defs>
<path d="M490.7,565.75 C484,565.5 480,559 480.5,552.4 C481,546 484,542.5 488,541.5 C491,540 494,539 496,538.3 C500,533 508,530.2 515.75,530.5 C525,531 532,537 534.6,544.6 C540,546 545,550 544.75,556.3 C544.5,562 541,565 537,565 C530,565.5 522,565 516.5,563.4 C510,566 500,566 490.7,565.75 Z" fill="url(#cld)" stroke="#3b89b6" stroke-width="0.9"/>
<text x="499.3" y="553.6" font-size="16" fill="#2a9ed8" text-anchor="start" font-weight="normal" textLength="22" lengthAdjust="spacingAndGlyphs" stroke="#2a9ed8" stroke-width="0.2" >CH</text>
<text x="521.5" y="556.3" font-size="10" fill="#2a9ed8" text-anchor="start" font-weight="normal" textLength="5.5" lengthAdjust="spacingAndGlyphs" stroke="#2a9ed8" stroke-width="0.2" >4</text>
<defs><linearGradient id="brf" x1="0" y1="0" x2="1" y2="0"><stop offset="0" stop-color="#f39226"/><stop offset="1" stop-color="#ffc860"/></linearGradient>
<linearGradient id="brr" x1="0" y1="0" x2="1" y2="0"><stop offset="0" stop-color="#ffd56a"/><stop offset="1" stop-color="#f5a030"/></linearGradient></defs>
<g stroke="#7a5a20" stroke-width="0.6" stroke-linejoin="round"><path d="M873,547.3 L905,537 L922,541.5 L889.7,552.5 Z" fill="#ffe9a0"/><path d="M873,547.3 L889.7,552.5 L889.7,566.8 L873,561.5 Z" fill="#ffe27a"/><path d="M889.7,552.5 L922,541.5 L922,555.5 L889.7,566.8 Z" fill="url(#brr)"/><path d="M879.7,527.3 L895.4,522.1 L928.2,533 L912,537.8 Z" fill="#fdb444"/><path d="M879.7,527.3 L912,537.8 L912,551.6 L879.7,542.5 Z" fill="url(#brf)"/><path d="M912,537.8 L928.2,533 L928.2,547.3 L912,551.6 Z" fill="#ffe27c"/></g>
<defs><linearGradient id="sh" x1="0" y1="0" x2="1" y2="0"><stop offset="0" stop-color="#8e9094"/><stop offset="0.6" stop-color="#d6d8da"/><stop offset="1" stop-color="#86888c"/></linearGradient></defs>
<path d="M1064.5,563.5 L1081,545 L1127,545 L1113,563.5 Z" fill="url(#sh)" stroke="#5a5c60" stroke-width="0.6"/>
<path d="M1064.5,563.5 L1113,563.5 L1113,567 L1064.5,567 Z" fill="#808286" stroke="#5a5c60" stroke-width="0.6"/>
<path d="M1113,563.5 L1127,545 L1127,548.5 L1113,567 Z" fill="#6a6c70" stroke="#5a5c60" stroke-width="0.6"/>
<path d="M1064.5,552.5 L1081,534 L1127,534 L1113,552.5 Z" fill="url(#sh)" stroke="#5a5c60" stroke-width="0.6"/>
<path d="M1064.5,552.5 L1113,552.5 L1113,556 L1064.5,556 Z" fill="#808286" stroke="#5a5c60" stroke-width="0.6"/>
<path d="M1113,552.5 L1127,534 L1127,537.5 L1113,556 Z" fill="#6a6c70" stroke="#5a5c60" stroke-width="0.6"/>
<path d="M1064.5,541.5 L1081,523 L1127,523 L1113,541.5 Z" fill="url(#sh)" stroke="#5a5c60" stroke-width="0.6"/>
<path d="M1064.5,541.5 L1113,541.5 L1113,545 L1064.5,545 Z" fill="#808286" stroke="#5a5c60" stroke-width="0.6"/>
<path d="M1113,541.5 L1127,523 L1127,526.5 L1113,545 Z" fill="#6a6c70" stroke="#5a5c60" stroke-width="0.6"/>
<circle cx="41.4" cy="516.5" r="6" fill="none" stroke="#4a4a4a" stroke-width="1.4"/>
<path d="M43.9,514.2 A3.2,3.2 0 1 0 43.9,518.8" fill="none" stroke="#4a4a4a" stroke-width="1.4"/>
<path d="M63.1,509.85 A7.8,7.8 0 1 0 54.2,522.6 Q56,516 59.2,515.5 Q62.5,515 63.1,509.85 Z" fill="#5cb83c"/>
<path d="M55.3,523.35 A7.8,7.8 0 0 0 64.2,510.6 Q62.5,517.5 59.2,518 Q56,518.5 55.3,523.35 Z" fill="#1f5db0"/>
<text x="69.8" y="518.7" font-size="11.5" fill="#245a8e" text-anchor="start" font-weight="bold" textLength="24.5" lengthAdjust="spacingAndGlyphs" stroke="#245a8e" stroke-width="0.2" >SUS</text>
<rect x="70" y="520.8" width="24" height="0.9" fill="#9ab0c4"/>
</svg></body></html>
